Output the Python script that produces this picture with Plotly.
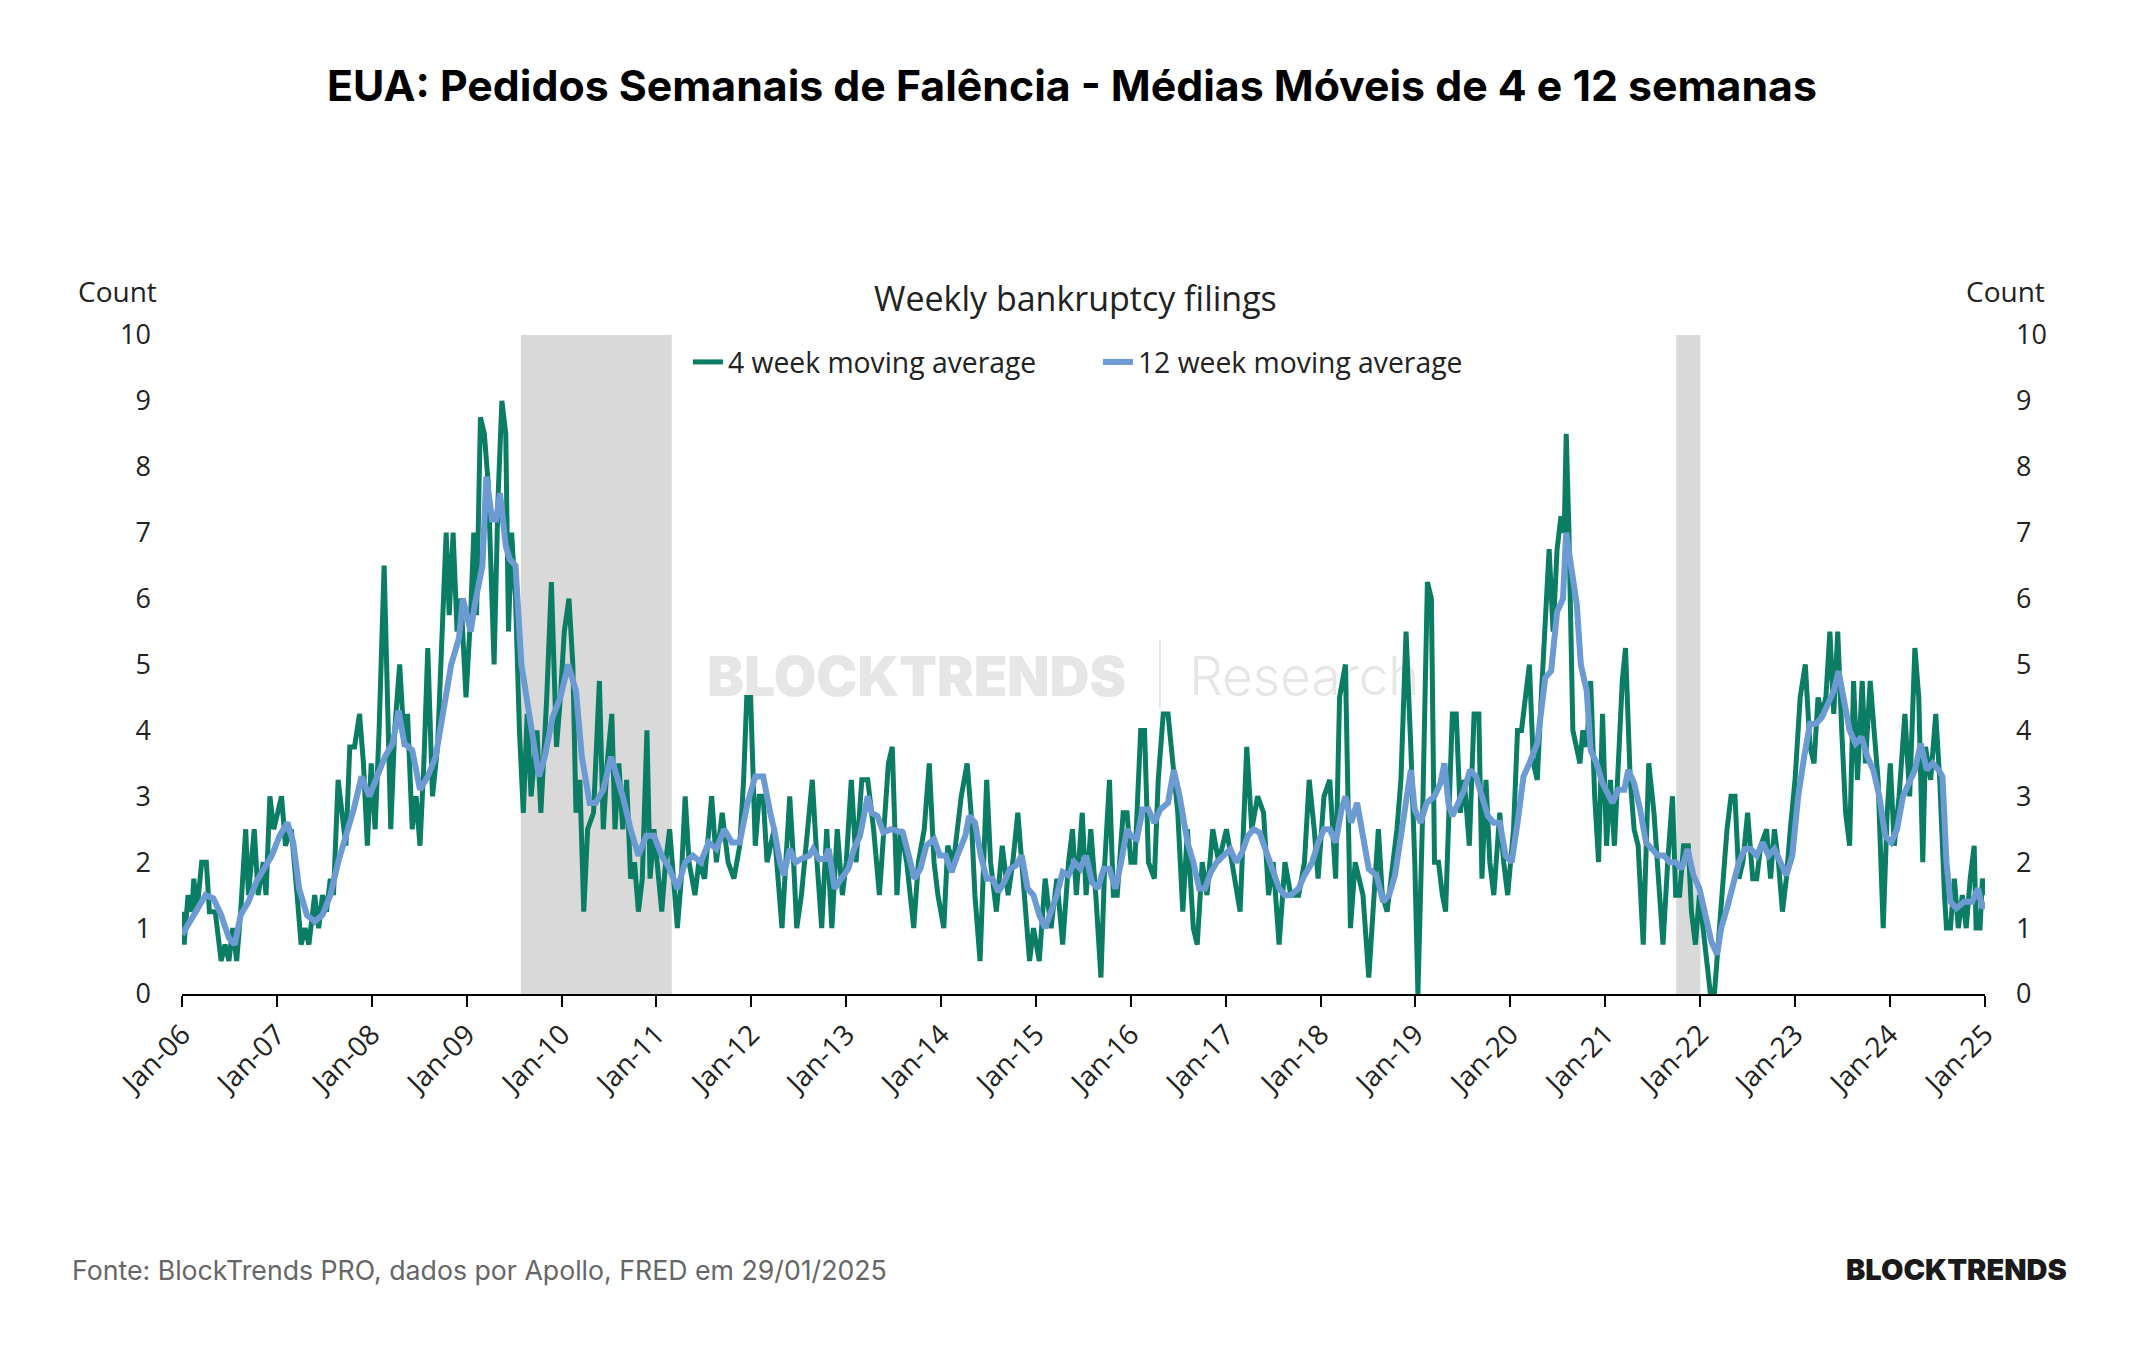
import plotly.graph_objects as go
import pandas as pd

title = "EUA: Pedidos Semanais de Falência - Médias Móveis de 4 e 12 semanas"
subtitle = "Weekly bankruptcy filings"
source = "Fonte: BlockTrends PRO, dados por Apollo, FRED em 29/01/2025"
brand = "BLOCKTRENDS"
axis_title = "Count"
name_4w = "4 week moving average"
name_12w = "12 week moving average"

# 4-week moving average (decimal year, value)
g_year = [
    2006.000, 2006.021, 2006.062, 2006.103, 2006.123, 2006.156, 2006.206, 2006.255, 2006.288, 2006.349,
    2006.411, 2006.452, 2006.493, 2006.534, 2006.575, 2006.617, 2006.670, 2006.699, 2006.760, 2006.801,
    2006.855, 2006.884, 2006.925, 2006.966, 2007.007, 2007.048, 2007.089, 2007.151, 2007.212, 2007.254,
    2007.295, 2007.336, 2007.397, 2007.439, 2007.480, 2007.521, 2007.562, 2007.595, 2007.644, 2007.685,
    2007.726, 2007.767, 2007.817, 2007.870, 2007.911, 2007.952, 2007.993, 2008.034, 2008.076, 2008.129,
    2008.170, 2008.199, 2008.240, 2008.293, 2008.343, 2008.376, 2008.425, 2008.466, 2008.507, 2008.548,
    2008.589, 2008.639, 2008.692, 2008.754, 2008.783, 2008.815, 2008.856, 2008.898, 2008.939, 2008.992,
    2009.041, 2009.074, 2009.103, 2009.144, 2009.185, 2009.226, 2009.288, 2009.329, 2009.370, 2009.411,
    2009.440, 2009.473, 2009.514, 2009.555, 2009.596, 2009.637, 2009.678, 2009.740, 2009.781, 2009.843,
    2009.892, 2009.946, 2009.987, 2010.028, 2010.077, 2010.118, 2010.151, 2010.192, 2010.233, 2010.274,
    2010.336, 2010.398, 2010.439, 2010.480, 2010.529, 2010.562, 2010.603, 2010.644, 2010.685, 2010.727,
    2010.768, 2010.809, 2010.850, 2010.899, 2010.932, 2010.973, 2011.055, 2011.096, 2011.138, 2011.179,
    2011.220, 2011.261, 2011.302, 2011.343, 2011.405, 2011.446, 2011.507, 2011.581, 2011.631, 2011.692,
    2011.754, 2011.816, 2011.877, 2011.918, 2011.951, 2011.992, 2012.041, 2012.082, 2012.124, 2012.165,
    2012.240, 2012.281, 2012.322, 2012.363, 2012.404, 2012.445, 2012.478, 2012.527, 2012.589, 2012.642,
    2012.692, 2012.741, 2012.794, 2012.848, 2012.905, 2012.959, 2013.000, 2013.053, 2013.103, 2013.164,
    2013.226, 2013.288, 2013.349, 2013.411, 2013.444, 2013.485, 2013.534, 2013.575, 2013.637, 2013.711,
    2013.760, 2013.822, 2013.875, 2013.925, 2013.966, 2014.028, 2014.069, 2014.130, 2014.212, 2014.274,
    2014.315, 2014.356, 2014.410, 2014.480, 2014.521, 2014.582, 2014.644, 2014.706, 2014.755, 2014.808,
    2014.870, 2014.932, 2014.973, 2015.034, 2015.096, 2015.158, 2015.219, 2015.281, 2015.343, 2015.384,
    2015.425, 2015.487, 2015.528, 2015.577, 2015.630, 2015.684, 2015.725, 2015.774, 2015.815, 2015.856,
    2015.918, 2015.959, 2016.000, 2016.041, 2016.103, 2016.144, 2016.185, 2016.247, 2016.288, 2016.341,
    2016.391, 2016.440, 2016.494, 2016.547, 2016.596, 2016.658, 2016.699, 2016.752, 2016.802, 2016.863,
    2016.925, 2017.007, 2017.069, 2017.151, 2017.221, 2017.274, 2017.336, 2017.398, 2017.451, 2017.500,
    2017.562, 2017.624, 2017.685, 2017.768, 2017.829, 2017.879, 2017.932, 2017.973, 2018.035, 2018.096,
    2018.158, 2018.199, 2018.261, 2018.314, 2018.364, 2018.446, 2018.507, 2018.608, 2018.650, 2018.700,
    2018.742, 2018.804, 2018.846, 2018.900, 2018.950, 2018.992, 2019.025, 2019.075, 2019.125, 2019.167,
    2019.200, 2019.242, 2019.283, 2019.317, 2019.346, 2019.388, 2019.429, 2019.471, 2019.513, 2019.567,
    2019.617, 2019.667, 2019.700, 2019.742, 2019.783, 2019.825, 2019.888, 2019.929, 2019.971, 2020.033,
    2020.075, 2020.117, 2020.158, 2020.200, 2020.242, 2020.283, 2020.325, 2020.367, 2020.408, 2020.450,
    2020.492, 2020.533, 2020.567, 2020.588, 2020.617, 2020.658, 2020.700, 2020.733, 2020.763, 2020.804,
    2020.846, 2020.888, 2020.929, 2020.971, 2021.013, 2021.054, 2021.096, 2021.138, 2021.179, 2021.213,
    2021.263, 2021.304, 2021.346, 2021.400, 2021.458, 2021.513, 2021.554, 2021.608, 2021.658, 2021.708,
    2021.742, 2021.783, 2021.825, 2021.875, 2021.908, 2021.950, 2021.992, 2022.054, 2022.108, 2022.150,
    2022.200, 2022.242, 2022.283, 2022.325, 2022.367, 2022.408, 2022.450, 2022.500, 2022.554, 2022.596,
    2022.638, 2022.700, 2022.742, 2022.783, 2022.825, 2022.867, 2022.908, 2022.950, 2023.000, 2023.054,
    2023.108, 2023.158, 2023.200, 2023.242, 2023.283, 2023.325, 2023.367, 2023.408, 2023.450, 2023.492,
    2023.533, 2023.575, 2023.617, 2023.658, 2023.708, 2023.742, 2023.792, 2023.833, 2023.875, 2023.929,
    2023.971, 2024.004, 2024.046, 2024.096, 2024.158, 2024.208, 2024.263, 2024.304, 2024.346, 2024.375,
    2024.429, 2024.483, 2024.525, 2024.575, 2024.596, 2024.638, 2024.679, 2024.721, 2024.763, 2024.804,
    2024.846, 2024.888, 2024.908, 2024.950, 2024.975, 2025.000,
]
g_val = [
    1.25, 0.75, 1.5, 1.25, 1.75, 1.25, 2.0, 2.0, 1.25, 1.25,
    0.5, 0.75, 0.5, 1.0, 0.5, 1.25, 2.5, 1.5, 2.5, 1.5,
    2.0, 1.5, 3.0, 2.5, 2.75, 3.0, 2.25, 2.5, 1.5, 0.75,
    1.0, 0.75, 1.5, 1.0, 1.5, 1.25, 1.75, 1.5, 3.25, 2.75,
    2.25, 3.75, 3.75, 4.25, 3.5, 2.25, 3.5, 2.5, 4.0, 6.5,
    4.0, 2.5, 4.0, 5.0, 3.75, 4.25, 2.5, 3.0, 2.25, 3.5,
    5.25, 3.0, 3.75, 5.75, 7.0, 5.75, 7.0, 5.5, 6.0, 4.5,
    5.75, 7.0, 5.75, 8.75, 8.5, 7.75, 5.0, 7.5, 9.0, 8.5,
    5.5, 7.0, 6.0, 4.0, 2.75, 4.25, 3.0, 4.0, 2.75, 4.5,
    6.25, 3.75, 4.5, 5.5, 6.0, 5.0, 2.75, 3.25, 1.25, 2.5,
    2.75, 4.75, 2.5, 3.5, 4.25, 2.5, 3.5, 2.5, 3.25, 1.75,
    2.0, 1.25, 1.75, 4.0, 1.75, 2.5, 1.25, 2.0, 2.5, 1.75,
    1.0, 1.75, 3.0, 2.0, 1.5, 2.0, 1.75, 3.0, 2.0, 2.75,
    2.0, 1.75, 2.25, 3.25, 4.5, 4.5, 2.25, 3.0, 3.0, 2.0,
    2.5, 1.75, 1.0, 2.0, 3.0, 2.0, 1.0, 1.5, 2.5, 3.25,
    2.0, 1.0, 2.5, 1.0, 2.5, 1.5, 2.0, 3.25, 2.0, 3.25,
    3.25, 2.5, 1.5, 2.75, 3.5, 3.75, 1.5, 2.5, 2.0, 1.0,
    2.0, 2.5, 3.5, 2.0, 1.5, 1.0, 2.25, 2.0, 3.0, 3.5,
    2.75, 1.5, 0.5, 3.25, 2.0, 1.25, 2.25, 1.5, 2.0, 2.75,
    1.5, 0.5, 1.0, 0.5, 1.75, 1.0, 1.75, 0.75, 2.0, 2.5,
    1.5, 2.75, 1.5, 2.5, 1.5, 0.25, 2.0, 3.25, 1.5, 1.5,
    2.75, 2.75, 2.0, 2.0, 4.0, 4.0, 2.0, 1.75, 3.25, 4.25,
    4.25, 3.5, 2.75, 1.25, 2.5, 1.0, 0.75, 2.0, 1.5, 2.5,
    2.0, 2.5, 2.0, 1.25, 3.75, 2.5, 3.0, 2.75, 1.5, 2.0,
    0.75, 2.0, 1.5, 1.5, 2.0, 3.25, 2.5, 1.75, 3.0, 3.25,
    1.75, 4.5, 5.0, 1.0, 2.0, 1.5, 0.25, 2.5, 1.5, 1.25,
    1.75, 2.5, 3.25, 5.5, 3.75, 2.0, 0.0, 2.75, 6.25, 6.0,
    2.0, 2.0, 1.5, 1.25, 2.5, 4.25, 4.25, 2.75, 3.25, 2.25,
    4.25, 4.25, 1.75, 3.25, 2.0, 1.5, 2.75, 2.0, 1.5, 2.5,
    4.0, 4.0, 4.5, 5.0, 3.5, 3.25, 4.5, 5.75, 6.75, 5.5,
    6.75, 7.25, 7.0, 8.5, 7.0, 4.0, 3.75, 3.5, 4.0, 3.75,
    4.75, 3.0, 2.0, 4.25, 2.25, 3.25, 2.25, 3.75, 4.75, 5.25,
    3.25, 2.5, 2.25, 0.75, 3.5, 2.75, 1.75, 0.75, 2.0, 3.0,
    1.5, 1.5, 2.25, 2.25, 1.25, 0.75, 1.5, 0.75, 0.0, 0.0,
    1.0, 1.75, 2.5, 3.0, 3.0, 1.75, 2.0, 2.75, 1.75, 1.75,
    2.25, 2.5, 1.75, 2.5, 2.0, 1.25, 1.75, 2.5, 3.25, 4.5,
    5.0, 3.75, 3.5, 4.5, 4.25, 4.5, 5.5, 4.25, 5.5, 4.0,
    2.75, 2.25, 4.75, 3.25, 4.75, 3.5, 4.75, 4.0, 3.25, 1.0,
    2.75, 3.5, 2.25, 3.0, 4.25, 3.0, 5.25, 4.5, 2.0, 3.75,
    3.25, 4.25, 3.25, 1.5, 1.0, 1.0, 1.75, 1.0, 1.5, 1.0,
    1.75, 2.25, 1.0, 1.0, 1.75, 1.5,
]

# 12-week moving average (decimal year, value)
b_year = [
    2006.000, 2006.082, 2006.164, 2006.247, 2006.329, 2006.411, 2006.493, 2006.555, 2006.617, 2006.699,
    2006.781, 2006.863, 2006.945, 2007.027, 2007.110, 2007.171, 2007.233, 2007.315, 2007.397, 2007.480,
    2007.562, 2007.644, 2007.726, 2007.808, 2007.891, 2007.973, 2008.055, 2008.137, 2008.219, 2008.281,
    2008.343, 2008.425, 2008.507, 2008.589, 2008.672, 2008.754, 2008.836, 2008.918, 2008.959, 2009.041,
    2009.083, 2009.165, 2009.206, 2009.267, 2009.309, 2009.350, 2009.411, 2009.452, 2009.514, 2009.576,
    2009.637, 2009.699, 2009.761, 2009.822, 2009.905, 2009.987, 2010.069, 2010.151, 2010.213, 2010.295,
    2010.357, 2010.439, 2010.521, 2010.562, 2010.644, 2010.727, 2010.809, 2010.891, 2010.973, 2011.055,
    2011.138, 2011.220, 2011.302, 2011.384, 2011.466, 2011.549, 2011.631, 2011.713, 2011.795, 2011.877,
    2011.959, 2012.041, 2012.124, 2012.206, 2012.240, 2012.301, 2012.342, 2012.404, 2012.466, 2012.527,
    2012.610, 2012.651, 2012.712, 2012.774, 2012.815, 2012.877, 2012.959, 2013.021, 2013.082, 2013.144,
    2013.226, 2013.267, 2013.329, 2013.390, 2013.473, 2013.596, 2013.658, 2013.719, 2013.781, 2013.843,
    2013.925, 2013.986, 2014.048, 2014.110, 2014.171, 2014.254, 2014.295, 2014.356, 2014.418, 2014.480,
    2014.541, 2014.603, 2014.665, 2014.726, 2014.788, 2014.850, 2014.911, 2014.973, 2015.034, 2015.096,
    2015.158, 2015.219, 2015.281, 2015.343, 2015.404, 2015.466, 2015.528, 2015.589, 2015.651, 2015.713,
    2015.774, 2015.836, 2015.897, 2015.959, 2016.000, 2016.062, 2016.124, 2016.185, 2016.247, 2016.309,
    2016.391, 2016.452, 2016.514, 2016.555, 2016.596, 2016.658, 2016.720, 2016.781, 2016.843, 2016.905,
    2016.966, 2017.048, 2017.110, 2017.172, 2017.233, 2017.295, 2017.356, 2017.438, 2017.500, 2017.562,
    2017.624, 2017.685, 2017.768, 2017.829, 2017.911, 2017.973, 2018.035, 2018.096, 2018.158, 2018.220,
    2018.261, 2018.322, 2018.384, 2018.446, 2018.507, 2018.589, 2018.658, 2018.721, 2018.783, 2018.846,
    2018.950, 2018.992, 2019.054, 2019.117, 2019.200, 2019.263, 2019.304, 2019.346, 2019.388, 2019.450,
    2019.513, 2019.575, 2019.638, 2019.700, 2019.763, 2019.825, 2019.888, 2019.950, 2020.013, 2020.075,
    2020.138, 2020.200, 2020.283, 2020.367, 2020.429, 2020.492, 2020.554, 2020.588, 2020.638, 2020.700,
    2020.742, 2020.804, 2020.846, 2020.908, 2020.971, 2021.033, 2021.075, 2021.138, 2021.200, 2021.242,
    2021.304, 2021.367, 2021.429, 2021.492, 2021.554, 2021.617, 2021.679, 2021.742, 2021.804, 2021.867,
    2021.929, 2021.992, 2022.054, 2022.117, 2022.179, 2022.221, 2022.283, 2022.346, 2022.408, 2022.471,
    2022.533, 2022.596, 2022.658, 2022.721, 2022.783, 2022.846, 2022.908, 2022.971, 2023.033, 2023.096,
    2023.158, 2023.221, 2023.283, 2023.346, 2023.408, 2023.458, 2023.513, 2023.575, 2023.638, 2023.700,
    2023.763, 2023.825, 2023.888, 2023.950, 2024.013, 2024.075, 2024.138, 2024.200, 2024.263, 2024.325,
    2024.388, 2024.450, 2024.513, 2024.554, 2024.596, 2024.638, 2024.700, 2024.783, 2024.867, 2024.929,
    2024.975, 2025.000,
]
b_val = [
    0.9, 1.1, 1.3, 1.5, 1.45, 1.2, 0.85, 0.75, 1.2, 1.4,
    1.7, 1.9, 2.1, 2.4, 2.6, 2.3, 1.6, 1.2, 1.1, 1.2,
    1.5, 2.0, 2.4, 2.8, 3.3, 3.0, 3.3, 3.6, 3.8, 4.3,
    3.8, 3.7, 3.1, 3.3, 3.6, 4.3, 5.0, 5.4, 6.0, 5.5,
    5.9, 6.5, 7.85, 7.2, 7.2, 7.6, 6.8, 6.6, 6.5, 5.0,
    4.4, 3.9, 3.3, 3.6, 4.2, 4.5, 5.0, 4.6, 3.6, 2.9,
    2.9, 3.1, 3.6, 3.4, 3.0, 2.5, 2.1, 2.4, 2.4, 2.1,
    1.9, 1.6, 2.0, 2.1, 2.0, 2.3, 2.2, 2.5, 2.3, 2.3,
    2.9, 3.3, 3.3, 2.7, 2.5, 2.0, 1.8, 2.2, 2.0, 2.05,
    2.1, 2.2, 2.05, 2.05, 2.2, 1.6, 1.75, 1.9, 2.2, 2.4,
    3.0, 2.75, 2.7, 2.45, 2.5, 2.45, 2.1, 1.75, 1.9, 2.25,
    2.35, 2.1, 2.1, 1.85, 2.1, 2.4, 2.7, 2.6, 2.1, 1.75,
    1.75, 1.55, 1.7, 1.9, 1.95, 2.1, 1.6, 1.5, 1.2, 1.0,
    1.25, 1.5, 1.85, 1.8, 2.0, 1.9, 2.1, 1.7, 1.6, 1.9,
    1.9, 1.6, 2.0, 2.5, 2.4, 2.35, 2.8, 2.8, 2.6, 2.8,
    2.9, 3.4, 3.0, 2.7, 2.3, 2.0, 1.6, 1.6, 1.85, 2.0,
    2.1, 2.2, 2.0, 2.15, 2.4, 2.5, 2.45, 2.1, 1.9, 1.6,
    1.5, 1.5, 1.6, 1.8, 2.0, 2.3, 2.5, 2.5, 2.3, 2.8,
    3.0, 2.6, 2.9, 2.4, 1.9, 1.8, 1.4, 1.5, 1.8, 2.4,
    3.4, 2.8, 2.6, 2.9, 3.0, 3.2, 3.5, 2.9, 2.7, 2.9,
    3.1, 3.4, 3.3, 3.0, 2.7, 2.6, 2.6, 2.1, 2.0, 2.6,
    3.3, 3.5, 3.8, 4.8, 4.9, 5.8, 6.0, 7.0, 6.5, 5.9,
    5.0, 4.6, 3.7, 3.5, 3.2, 3.0, 2.9, 3.1, 3.1, 3.4,
    3.2, 2.8, 2.3, 2.2, 2.1, 2.1, 2.0, 2.0, 1.9, 2.2,
    1.8, 1.6, 1.2, 0.8, 0.6, 1.0, 1.3, 1.7, 2.0, 2.2,
    2.2, 2.1, 2.3, 2.1, 2.2, 2.0, 1.8, 2.1, 3.0, 3.6,
    4.1, 4.1, 4.2, 4.4, 4.6, 4.9, 4.5, 4.0, 3.8, 3.9,
    3.6, 3.4, 3.0, 2.4, 2.3, 2.5, 3.0, 3.2, 3.4, 3.8,
    3.4, 3.5, 3.4, 3.3, 2.0, 1.4, 1.3, 1.4, 1.4, 1.6,
    1.3, 1.4,
]

# shaded periods
shade_start = ["2009-07-28", "2021-10-01"]
shade_end = ["2011-03-01", "2022-01-02"]

y_ticks = list(range(0, 11))

GREEN = "#0B7D64"
BLUE = "#6B9BD2"
SHADE = "#D9D9D9"
TXT = "#222222"
FONT = "Open Sans"


def to_dates(years):
    base = pd.Timestamp("2006-01-01")
    return [base + pd.Timedelta(days=(y - 2006.0) * 365.25) for y in years]


fig = go.Figure()
fig.add_trace(go.Scatter(
    x=to_dates(g_year), y=g_val, mode="lines", name=name_4w,
    line=dict(color=GREEN, width=5),
))
fig.add_trace(go.Scatter(
    x=to_dates(b_year), y=b_val, mode="lines", name=name_12w,
    line=dict(color=BLUE, width=6), yaxis="y2",
))

shapes = []
for s, e in zip(shade_start, shade_end):
    shapes.append(dict(type="rect", xref="x", yref="y", x0=s, x1=e, y0=0, y1=10,
                       fillcolor=SHADE, line=dict(width=0), layer="below"))

# watermark (behind the lines)
WM = "#E6E6E6"
shapes.append(dict(type="rect", xref="paper", yref="paper", x0=0.285, x1=0.53, y0=0.43, y1=0.54,
                   fillcolor="rgba(0,0,0,0)", line=dict(width=0), layer="below",
                   label=dict(text="BLOCKTRENDS", textposition="middle center",
                              font=dict(family="Inter", size=55, color=WM, weight=900))))
shapes.append(dict(type="line", xref="paper", yref="paper", x0=0.5424, x1=0.5424, y0=0.434, y1=0.537,
                   line=dict(color=WM, width=2), layer="below"))
shapes.append(dict(type="rect", xref="paper", yref="paper", x0=0.56, x1=0.685, y0=0.43, y1=0.54,
                   fillcolor="rgba(0,0,0,0)", line=dict(width=0), layer="below",
                   label=dict(text="Research", textposition="middle center",
                              font=dict(family="Inter", size=53, color=WM, weight=300))))

annotations = [
    dict(text=subtitle, xref="paper", yref="paper", x=0.4953, y=1.056, xanchor="center", yanchor="middle",
         showarrow=False, font=dict(family=FONT, size=34, color=TXT)),
    dict(text=axis_title, xref="paper", yref="paper", x=-0.0355, y=1.0668, xanchor="center", yanchor="middle",
         showarrow=False, font=dict(family=FONT, size=28, color=TXT)),
    dict(text=axis_title, xref="paper", yref="paper", x=1.0111, y=1.0668, xanchor="center", yanchor="middle",
         showarrow=False, font=dict(family=FONT, size=28, color=TXT)),
    dict(text=source, xref="paper", yref="paper", x=-0.0621, y=-0.4188, xanchor="left", yanchor="middle",
         showarrow=False, font=dict(family="Inter", size=26.7, color="#666666")),
    dict(text=brand, xref="paper", yref="paper", x=1.0466, y=-0.4188, xanchor="right", yanchor="middle",
         showarrow=False, font=dict(family="Inter", size=29, color="#1A1A1A", weight=900)),
]

yaxis_common = dict(range=[0, 10], tickvals=y_ticks, showgrid=False, zeroline=False, showline=False,
                    ticks="", tickfont=dict(family=FONT, size=27, color=TXT), ticklabelstandoff=30,
                    fixedrange=True)

fig.update_layout(
    width=2144, height=1350,
    margin=dict(l=182, r=159, t=335, b=356),
    paper_bgcolor="white", plot_bgcolor="white",
    title=dict(text=title, x=0.5, xref="container", xanchor="center", y=1 - 86 / 1350, yref="container",
               yanchor="middle", font=dict(family="Inter", size=42.8, color="#000000", weight=700)),
    xaxis=dict(type="date", range=["2005-12-31 12:00", "2025-01-01 12:00"], tick0="2006-01-01", dtick="M12",
               tickformat="%b-%y", tickangle=-45, ticks="outside", ticklen=11, tickwidth=2, tickcolor="#000000",
               showline=True, linecolor="#000000", linewidth=2, showgrid=False, zeroline=False,
               tickfont=dict(family=FONT, size=28, color=TXT)),
    yaxis=yaxis_common,
    yaxis2=dict(yaxis_common, overlaying="y", side="right"),
    legend=dict(orientation="h", x=0.2806, xanchor="left", y=0.959, yanchor="middle",
                font=dict(family=FONT, size=28.3, color=TXT), bgcolor="rgba(0,0,0,0)", itemwidth=30,
                entrywidth=365, traceorder="normal"),
    shapes=shapes,
    annotations=annotations,
    showlegend=True,
)

fig.write_html("out.html")
